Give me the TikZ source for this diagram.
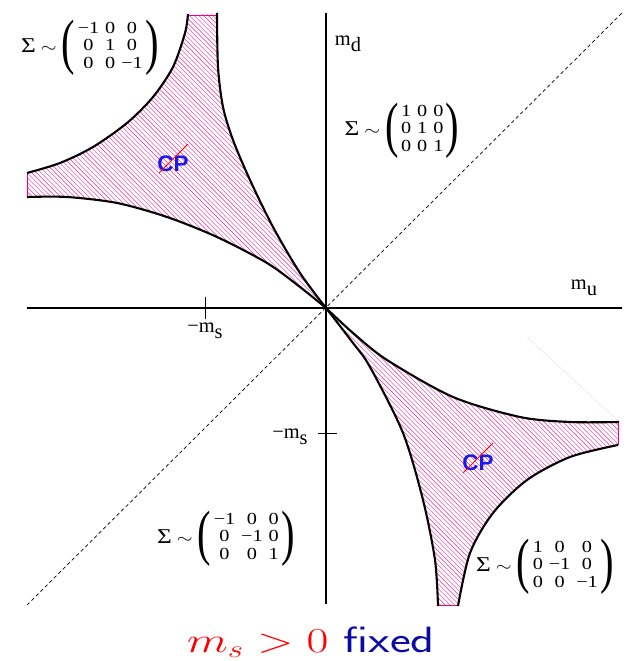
\documentclass[tikz,border=0pt]{standalone}
\usepackage[no-math]{fontspec}
\usepackage{graphicx}
\usepackage{tikz}

\newfontfamily\tms{Liberation Serif}
\newfontfamily\hlv{Liberation Sans}
\definecolor{cpblue}{RGB}{25,25,235}
\definecolor{fixblue}{RGB}{10,10,165}

\newcommand\bpar[1]{\raisebox{-0.49em}{\scalebox{1.6}[2.9]{#1}}}
\newcommand\sig[3]{\scalebox{1.2}[1]{Σ\hspace{3pt}{\fontsize{13}{15}\selectfont$\sim$}\hspace{3pt}\bpar{(}\hspace{1.5pt}$\vcenter{\hbox{\fontsize{12}{12.4}\selectfont
  \begin{tabular}{@{}c@{\hspace{3.5pt}}c@{\hspace{3.5pt}}c@{}}#1\\#2\\#3\end{tabular}}}$\hspace{1.5pt}\bpar{)}}}
\newcommand\msub[2]{#1\raisebox{-0.6ex}{#2}}

\tikzset{
  axis/.style={line width=1.4pt},
  curve/.style={line width=1.5pt},
  tick/.style={line width=0.7pt},
  hatchline/.style={magenta!85, line width=0.3pt},
  edge/.style={magenta, line width=0.6pt},
  axlbl/.style={font=\tms\fontsize{14.5}{16}\selectfont},
  siglbl/.style={font=\tms\fontsize{15}{17}\selectfont},
  cplbl/.style={font=\hlv\bfseries\fontsize{16}{18}\selectfont, text=cpblue, inner sep=0pt},
  cpline/.style={red, line width=0.6pt},
}

\begin{document}
\begin{tikzpicture}[x=0.025cm,y=0.025cm]
\useasboundingbox (-326,308) rectangle (301,-353);

% region top left
\begin{scope}
\clip plot[smooth] coordinates {(0,0) (-26,21) (-59,45) (-109,71) (-159,91) (-209,105) (-259,111) (-299,111)}
  -- plot[smooth] coordinates {(-299,135) (-266,145) (-233,161) (-199,185) (-173,211) (-153,241) (-141,275) (-138,293)}
  -- plot[smooth] coordinates {(-109,294) (-108,241) (-103,201) (-93,168) (-76,128) (-53,81) (-26,35) (0,0)} -- cycle;
\foreach \i in {-600,-595.3,...,0}
  \draw[hatchline] (\i,300) -- ++(300,-300);
\end{scope}
\draw[edge] (-299,111) -- (-299,135);
\draw[edge] (-138,293) -- (-109,293);

% region bottom right
\begin{scope}
\clip plot[smooth] coordinates {(0,0) (27,-25) (61,-52) (127,-89) (194,-109) (244,-114) (292,-114)}
  -- plot[smooth] coordinates {(292,-137) (244,-149) (201,-172) (167,-205) (144,-245) (132,-297)}
  -- plot[smooth] coordinates {(112,-297) (109,-252) (97,-192) (77,-125) (44,-59) (27,-35) (0,0)} -- cycle;
\foreach \i in {-300,-295.3,...,300}
  \draw[hatchline] (\i,0) -- ++(300,-300);
\end{scope}
\draw[edge] (292,-114) -- (292,-137);
\draw[edge] (132,-297) -- (112,-297);
\draw[magenta!15, line width=0.3pt] (201,-29) -- (291,-112);

% axes
\draw[dash pattern=on 2.5pt off 2pt, line width=0.5pt] (-299,-297) -- (296,295);
\draw[axis] (-299,0) -- (296,0);
\draw[axis] (0,-296) -- (0,295);
\draw[tick] (-121,-11) -- (-121,11);
\draw[tick] (-8,-125) -- (11,-125);

% curves
\draw[curve] plot[smooth] coordinates {(0,0) (-26,21) (-59,45) (-109,71) (-159,91) (-209,105) (-259,111) (-299,111)};
\draw[curve] plot[smooth] coordinates {(-299,135) (-266,145) (-233,161) (-199,185) (-173,211) (-153,241) (-141,275) (-138,294)};
\draw[curve] plot[smooth] coordinates {(-109,295) (-108,241) (-103,201) (-93,168) (-76,128) (-53,81) (-26,35) (0,0)};
\draw[curve] plot[smooth] coordinates {(0,0) (27,-25) (61,-52) (127,-89) (194,-109) (244,-114) (293,-114)};
\draw[curve] plot[smooth] coordinates {(292,-137) (244,-149) (201,-172) (167,-205) (144,-245) (132,-298)};
\draw[curve] plot[smooth] coordinates {(112,-298) (109,-252) (97,-192) (77,-125) (44,-59) (27,-35) (0,0)};

% labels
\node[axlbl] (md) at (22,264) {\msub{m}{d}};
\node[axlbl] (mu) at (258,20) {\msub{m}{u}};
\node[axlbl] (msx) at (-121,-23) {−\msub{m}{s}};
\node[axlbl] (msy) at (-36,-129) {−\msub{m}{s}};

\node[siglbl] (sigTL) at (-236,260) {\sig{−1&0&0}{0&1&0}{0&0&−1}};
\node[siglbl] (sigTR) at (76,177) {\sig{1&0&0}{0&1&0}{0&0&1}};
\node[siglbl] (sigBL) at (-100,-231) {\sig{−1&0&0}{0&−1&0}{0&0&1}};
\node[siglbl] (sigBR) at (219,-259) {\sig{1&0&0}{0&−1&0}{0&0&−1}};

\node[cplbl] (cpTL) at (-153,144) {CP};
\draw[cpline] (-167,135) -- (-138,164);
\node[cplbl] (cpBR) at (152,-155) {CP};
\draw[cpline] (137,-165) -- (167,-135);

\node[anchor=base] (cap) at (-15,-344) {\scalebox{1.36}[1]{\fontsize{26}{30}\selectfont
  \textcolor{red}{$m_s>0$}~\textcolor{fixblue}{\sffamily fixed}}};

\end{tikzpicture}
\end{document}
